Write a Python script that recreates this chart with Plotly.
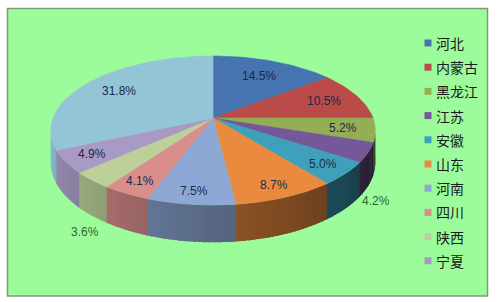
import numpy as np
import plotly.graph_objects as go

# ---- data ----
provinces = ["河北", "内蒙古", "黑龙江", "江苏", "安徽", "山东", "河南", "四川", "陕西", "宁夏", "其他"]
shares = [14.5, 10.5, 5.2, 4.2, 5.0, 8.7, 7.5, 4.1, 3.6, 4.9, 31.8]
legend_names = provinces[:10]

# ---- style ----
colors = ["#4674B0", "#BA4B49", "#94AE56", "#75589A", "#3FA0BC", "#EA8A3E",
          "#8EA8D5", "#D98E8C", "#BDD09A", "#A89AC4", "#93C5D7"]
outside_labels = {"江苏", "陕西"}
CX, CY, RX, RY, K, DEPTH = 213.0, 118.0, 160.0, 72.4, 0.168, 31.0
FONT = "Liberation Sans"
CJK = "Noto Sans CJK SC"


def proj(r, th_deg, z=0.0):
    t = np.radians(th_deg)
    den = 1 + K * r * np.cos(t)
    x = CX + RX * r * np.sin(t) / den
    y = CY - RY * r * np.cos(t) / den + z * DEPTH / (1 + K * np.cos(t))
    return x, y


def shade(hexc, f):
    h = hexc.lstrip("#")
    rgb = [int(h[i:i + 2], 16) for i in (0, 2, 4)]
    return "rgb(%d,%d,%d)" % tuple(max(0, min(255, round(c * f))) for c in rgb)


fig = go.Figure()

total = sum(shares)
bounds = np.concatenate([[0], np.cumsum(shares)]) / total * 360.0
vis_lo = np.degrees(np.arccos(-K))
vis_hi = 360 - vis_lo

# side walls (visible part of the cylinder), drawn as overlapping gradient strips
for i, c in enumerate(colors):
    a0, a1 = max(bounds[i], vis_lo), min(bounds[i + 1], vis_hi)
    if a1 <= a0:
        continue
    n = max(1, int(np.ceil((a1 - a0) / 1.5)))
    edges = np.linspace(a0, a1, n + 1)
    for j in range(n):
        e1 = min(edges[j + 1] + 0.8, vis_hi)
        ts = np.linspace(edges[j], e1, 4)
        xt, yt = proj(1, ts)
        xb, yb = proj(1, ts[::-1], 1)
        mid = 0.5 * (edges[j] + edges[j + 1])
        f = 0.30 + 0.64 * (mid - vis_lo) / (vis_hi - vis_lo)
        col = shade(c, f)
        fig.add_trace(go.Scatter(x=np.concatenate([xt, xb]), y=np.concatenate([yt, yb]),
                                 fill="toself", mode="lines", fillcolor=col,
                                 line=dict(width=0),
                                 hoverinfo="skip", showlegend=False))

# top face
for i, c in enumerate(colors):
    ts = np.linspace(bounds[i], bounds[i + 1], max(3, int((bounds[i + 1] - bounds[i]) / 1.5)))
    xs, ys = proj(1, ts)
    x = np.concatenate([[CX], xs, [CX]])
    y = np.concatenate([[CY], ys, [CY]])
    fig.add_trace(go.Scatter(x=x, y=y, fill="toself", mode="lines", fillcolor=c,
                             line=dict(color=c, width=0.6),
                             hoverinfo="skip", showlegend=False, name=provinces[i]))

# percentage labels
ann = []
for i, name in enumerate(provinces):
    mid = 0.5 * (bounds[i] + bounds[i + 1])
    txt = "%.1f%%" % shares[i]
    if name in outside_labels:
        x, y = proj(1.05, mid, 1)
        ann.append(dict(x=x, y=y, text=txt, showarrow=False, yshift=-13,
                        font=dict(family=FONT, size=12, color="#2A662A")))
    else:
        r = 0.79 - 0.08 * np.cos(np.radians(mid))
        x, y = proj(r, mid)
        ann.append(dict(x=x, y=y, text=txt, showarrow=False,
                        font=dict(family=FONT, size=12, color="#1B2A45")))

# custom legend
ly = [43 + 24.2 * i for i in range(len(legend_names))]
fig.add_trace(go.Scatter(x=[428] * len(legend_names), y=ly, mode="markers",
                         marker=dict(symbol="square", size=7, color=colors[:len(legend_names)]),
                         hoverinfo="skip", showlegend=False))
for name, yy in zip(legend_names, ly):
    ann.append(dict(x=434, y=yy, text=name, showarrow=False, xanchor="left",
                    font=dict(family=CJK, size=14, color="#1A1A1A")))

fig.update_layout(
    width=497, height=302, margin=dict(l=0, r=0, t=0, b=0),
    paper_bgcolor="white", plot_bgcolor="white",
    xaxis=dict(range=[0, 497], visible=False, fixedrange=True),
    yaxis=dict(range=[302, 0], visible=False, fixedrange=True),
    shapes=[dict(type="rect", xref="x", yref="y", x0=7.5, y0=8.5, x1=487.5, y1=296,
                 fillcolor="#9CFC9C", line=dict(color="#7A9A7A", width=1.5), layer="below")],
    annotations=ann, showlegend=False,
)

fig.write_html("out.html")
